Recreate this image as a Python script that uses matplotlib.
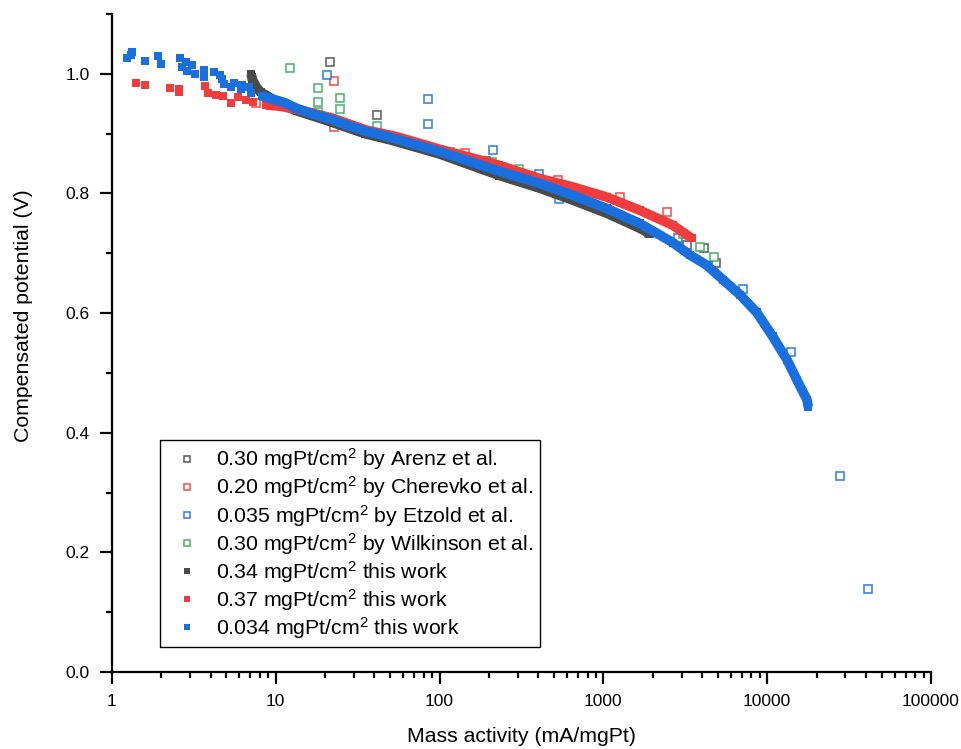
import numpy as np
import matplotlib.pyplot as plt
from matplotlib.ticker import MultipleLocator, FixedLocator, FixedFormatter, NullFormatter

plt.rcParams['font.family'] = ['Liberation Sans', 'DejaVu Sans']
plt.rcParams['mathtext.fontset'] = 'custom'
plt.rcParams['mathtext.rm'] = 'Liberation Sans'
plt.rcParams['mathtext.default'] = 'regular'

# literature data (hollow squares)
arenz_x = [21.3, 41.6, 193, 1900, 3230, 4100, 4900]
arenz_y = [1.020, 0.931, 0.854, 0.734, 0.714, 0.709, 0.684]
cherevko_x = [7.6, 22.7, 22.7, 143, 525, 1256, 2450]
cherevko_y = [0.951, 0.988, 0.911, 0.867, 0.822, 0.794, 0.769]
etzold_x = [20.6, 85, 85, 213, 405, 532, 2850, 7100, 14000, 27700, 41500]
etzold_y = [0.998, 0.958, 0.916, 0.873, 0.832, 0.790, 0.725, 0.640, 0.535, 0.328, 0.139]
wilkinson_x = [12.2, 18.2, 18.2, 18.2, 24.5, 24.5, 41.6, 115, 210, 307, 1300, 3060, 3870, 4700]
wilkinson_y = [1.009, 0.976, 0.953, 0.936, 0.959, 0.941, 0.913, 0.869, 0.852, 0.841, 0.760, 0.733, 0.710, 0.694]

# this work, 0.34 mgPt/cm2
black_x = [7.07, 7.2, 7.6, 8.1, 8.9, 10.5, 13.5, 21, 35, 51, 100, 232, 407, 648, 1048, 1664, 1915]
black_y = [1.000, 0.990, 0.978, 0.969, 0.963, 0.950, 0.938, 0.921, 0.900, 0.889, 0.866, 0.830, 0.809, 0.789, 0.767, 0.742, 0.733]

# this work, 0.37 mgPt/cm2 (scattered start + dense part)
red_head_x = [1.40, 1.59, 2.26, 2.57, 2.57, 3.70, 3.86, 4.32, 4.77, 5.33, 5.9, 6.58, 7.26]
red_head_y = [0.985, 0.982, 0.977, 0.975, 0.970, 0.980, 0.968, 0.965, 0.963, 0.952, 0.961, 0.957, 0.953]
red_x = [8.7, 10.5, 13.9, 22.1, 35.6, 54.6, 100, 232, 407, 648, 1048, 1664, 2650, 3460]
red_y = [0.948, 0.946, 0.940, 0.926, 0.906, 0.895, 0.874, 0.847, 0.825, 0.811, 0.794, 0.772, 0.747, 0.725]

# this work, 0.034 mgPt/cm2
blue_head_x = [1.23, 1.32, 1.30, 1.59, 1.91, 1.99, 2.60, 2.68, 2.83, 2.88, 3.08, 3.21, 3.65, 3.65,
               4.2, 4.55, 4.7, 4.8, 5.33, 5.55, 6.1, 6.2, 6.87, 7.1]
blue_head_y = [1.027, 1.037, 1.032, 1.022, 1.030, 1.017, 1.027, 1.012, 1.020, 1.005, 1.015, 1.000, 1.007, 0.995,
               1.003, 0.998, 0.992, 0.983, 0.978, 0.985, 0.975, 0.982, 0.978, 0.968]
blue_x = [8.25, 9.5, 11.3, 13.5, 17.6, 21.3, 27.3, 35.6, 44, 51, 65, 100, 232, 407, 648, 1048, 1664,
          2650, 3380, 4280, 5360, 6800, 8630, 10800, 13200, 15200, 17500, 17800]
blue_y = [0.963, 0.958, 0.952, 0.942, 0.931, 0.925, 0.914, 0.904, 0.898, 0.893, 0.885, 0.870, 0.837,
          0.817, 0.797, 0.775, 0.750, 0.718, 0.697, 0.680, 0.656, 0.631, 0.601, 0.561, 0.522, 0.488, 0.455, 0.443]

c_black = '#4b4b4b'
c_red = '#f03c3c'
c_blue = '#1a6fdf'
c_green = '#3aa862'

fig = plt.figure(figsize=(9.62, 7.49), dpi=100)
ax = fig.add_axes([0.1164, 0.1028, 0.8514, 0.8785])

hollow = dict(ls='none', marker='s', ms=5.5, mfc='white', mew=1.2, alpha=0.85, zorder=2)
ax.plot(arenz_x, arenz_y, mec=c_black, label='0.30 mgPt/cm$^2$ by Arenz et al.', **hollow)
ax.plot(cherevko_x, cherevko_y, mec=c_red, label='0.20 mgPt/cm$^2$ by Cherevko et al.', **hollow)
ax.plot(etzold_x, etzold_y, mec=c_blue, label='0.035 mgPt/cm$^2$ by Etzold et al.', **hollow)
ax.plot(wilkinson_x, wilkinson_y, mec=c_green, label='0.30 mgPt/cm$^2$ by Wilkinson et al.', **hollow)

band = dict(lw=7, solid_capstyle='butt', solid_joinstyle='round')
filled = dict(ls='none', marker='s', ms=5.5, mew=0)

ax.plot(black_x, black_y, color=c_black, zorder=3, **band)
ax.plot(black_x, black_y, color=c_black, zorder=3, label='0.34 mgPt/cm$^2$ this work', **filled)

ax.plot(red_x, red_y, color=c_red, zorder=4, **band)
ax.plot(red_head_x + red_x, red_head_y + red_y, color=c_red, zorder=4,
        label='0.37 mgPt/cm$^2$ this work', **filled)

ax.plot(blue_x, blue_y, color=c_blue, zorder=5, **band)
ax.plot(blue_head_x + blue_x, blue_head_y + blue_y, color=c_blue, zorder=5,
        label='0.034 mgPt/cm$^2$ this work', **filled)

ax.set_xscale('log')
ax.set_xlim(1, 1e5)
ax.set_ylim(0, 1.1)

decades = [1, 10, 100, 1000, 10000, 100000]
ax.xaxis.set_major_locator(FixedLocator(decades))
ax.xaxis.set_major_formatter(FixedFormatter([str(d) for d in decades]))
minors = [m * d for d in decades[:-1] for m in range(2, 10)]
ax.xaxis.set_minor_locator(FixedLocator(minors))
ax.xaxis.set_minor_formatter(NullFormatter())

ax.yaxis.set_major_locator(MultipleLocator(0.2))
ax.yaxis.set_minor_locator(MultipleLocator(0.1))
ax.yaxis.set_major_formatter(plt.FuncFormatter(lambda v, p: f'{v:.1f}'))

for s in ['top', 'right']:
    ax.spines[s].set_visible(False)
for s in ['left', 'bottom']:
    ax.spines[s].set_linewidth(1.6)

ax.tick_params(which='major', direction='out', length=8.5, width=1.6, labelsize=12.5, pad=7.5)
ax.tick_params(which='minor', direction='out', length=4.5, width=1.6)

ax.set_xlabel('Mass activity (mA/mgPt)', fontsize=15.3, va='top')
ax.set_ylabel('Compensated potential (V)', fontsize=15.3)
ax.xaxis.set_label_coords(0.5, -0.083)
ax.yaxis.set_label_coords(-0.0965, 0.541)

leg = ax.legend(loc='lower left', bbox_to_anchor=(0.0586, 0.038), fontsize=15.3,
                frameon=True, fancybox=False, edgecolor='black', framealpha=1,
                markerscale=0.85, handlelength=1.9, handletextpad=0.45,
                labelspacing=0.1, borderpad=0.3, borderaxespad=0)
leg.get_frame().set_linewidth(1.0)

fig.savefig('out.png', dpi=100)
